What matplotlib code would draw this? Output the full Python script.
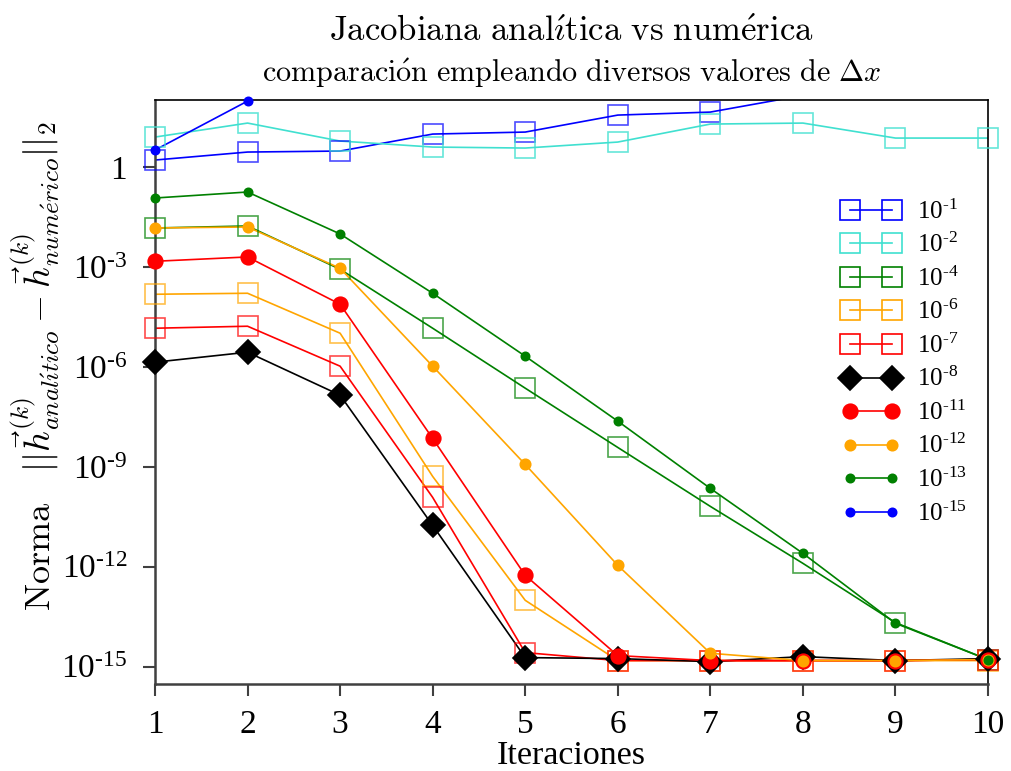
import matplotlib

matplotlib.use("Agg")
import matplotlib.pyplot as plt
import numpy as np
from matplotlib.lines import Line2D

# --------------------------------------------------
# data: log10 of the norm
# --------------------------------------------------
iteraciones = np.arange(1, 11)
nan = np.nan

log_dx_1 = [0.21, 0.45, 0.48, 0.99, 1.05, 1.56, 1.65, 2.15, nan, nan]
log_dx_2 = [0.90, 1.32, 0.78, 0.60, 0.57, 0.75, 1.29, 1.32, 0.87, 0.87]
log_dx_4 = [-1.83, -1.77, -3.07, -4.84, -6.64, -8.42, -10.19, -11.90, -13.68, -14.79]
log_dx_6 = [-3.82, -3.79, -4.99, -9.29, -13.01, -14.82, -14.82, -14.82, -14.82, -14.82]
log_dx_7 = [-4.84, -4.78, -5.98, -9.92, -14.58, -14.82, -14.82, -14.82, -14.82, -14.79]
log_dx_8 = [-5.86, -5.56, -6.85, -10.76, -14.73, -14.76, -14.85, -14.70, -14.82, -14.76]
log_dx_11 = [-2.83, -2.70, -4.12, -8.15, -12.26, -14.67, -14.82, -14.82, -14.82, -14.79]
log_dx_12 = [-1.83, -1.80, -3.04, -5.98, -8.93, -11.96, -14.60, -14.82, -14.82, -14.79]
log_dx_13 = [-0.93, -0.75, -2.01, -3.79, -5.68, -7.63, -9.65, -11.60, -13.70, -14.79]
log_dx_15 = [0.51, 1.98, nan, nan, nan, nan, nan, nan, nan, nan]

etiquetas = ["-1", "-2", "-4", "-6", "-7", "-8", "-11", "-12", "-13", "-15"]
yticks_exp = [0, -3, -6, -9, -12, -15]

# --------------------------------------------------
# styles: (data, color, marker, size, filled, alpha)
# --------------------------------------------------
series = [
    (log_dx_1, "blue", "s", 15, False, 0.7),
    (log_dx_2, "turquoise", "s", 15, False, 0.8),
    (log_dx_4, "green", "s", 15, False, 0.7),
    (log_dx_6, "orange", "s", 15, False, 0.7),
    (log_dx_7, "red", "s", 15, False, 0.7),
    (log_dx_8, "black", "D", 12, True, 1.0),
    (log_dx_11, "red", "o", 10.5, True, 1.0),
    (log_dx_12, "orange", "o", 7.5, True, 1.0),
    (log_dx_13, "green", "o", 6, True, 1.0),
    (log_dx_15, "blue", "o", 6, True, 1.0),
]

plt.rcParams.update({
    "font.family": "Liberation Serif",
    "mathtext.fontset": "custom",
    "mathtext.rm": "Liberation Serif",
    "mathtext.it": "Liberation Serif:italic",
})

ymin, ymax = 3e-16, 1.03e2

fig = plt.figure(figsize=(10.11, 7.71), dpi=100)
ax = fig.add_axes([155 / 1011, 1 - 684 / 771, (988 - 155) / 1011, (684 - 100) / 771])
ax.set_yscale("log")

handles = []
for (vals, col, mk, ms, filled, alpha), lab in zip(series, etiquetas):
    y = 10.0 ** np.array(vals, dtype=float)
    ax.plot(iteraciones, y, color=col, lw=1.2, zorder=2)
    # markers outside the top of the frame stay hidden, the rest are unclipped
    ym = np.where(y <= ymax * 1.05, y, np.nan)
    face = col if filled else "none"
    ax.plot(iteraciones, ym, ls="none", marker=mk, ms=ms, mfc=face, mec=col,
            mew=1.2, alpha=alpha, clip_on=False, zorder=3)
    h = Line2D([], [], color=col, lw=1.2, marker=mk, ms=ms, mfc=face, mec=col, mew=1.2)
    h.set_label(r"$10^{\text{" + lab + "}}$")
    handles.append(h)

ax.set_xlim(1, 10)
ax.set_ylim(ymin, ymax)
ax.set_xticks(iteraciones)
ax.set_xticklabels([str(i) for i in iteraciones])
ax.set_yticks([10.0 ** e for e in yticks_exp])
ax.set_yticklabels(["1"] + [r"$10^{\text{%d}}$" % e for e in yticks_exp[1:]])
ax.minorticks_off()
ax.tick_params(axis="both", direction="out", length=8.6, width=1.5,
               color="#404040", labelsize=24)
ax.tick_params(axis="x", pad=10)
ax.tick_params(axis="y", pad=11.5)

for s in ["left", "bottom"]:
    ax.spines[s].set_color("#404040")
    ax.spines[s].set_linewidth(1.8)
for s in ["top", "right"]:
    ax.spines[s].set_color("black")
    ax.spines[s].set_linewidth(1.2)

ax.legend(handles=handles, loc="upper left", bbox_to_anchor=(0.825, 0.83),
          frameon=False, fontsize=18, numpoints=2, handlelength=2.3,
          handletextpad=0.7, labelspacing=0.37, borderaxespad=0, borderpad=0)

ax.set_xlabel("Iteraciones", fontsize=24.5, labelpad=0)
ax.set_ylabel(r"$\mathrm{Norma}\quad ||\vec{h}^{(k)}_{anal\acute{\imath}tico}"
              r" - \vec{h}^{(k)}_{num\acute{e}rico}||_2$",
              fontsize=26, math_fontfamily="cm")
ax.yaxis.set_label_coords(-0.112, 0.545)

fig.text(0.565, 0.958, r"$\mathrm{Jacobiana\ anal\acute{\imath}tica\ vs\ num\acute{e}rica}$",
         ha="center", va="center", fontsize=25, math_fontfamily="cm")
fig.text(0.565, 0.905, r"$\mathrm{comparaci\acute{o}n\ empleando\ diversos\ valores\ de\ }\Delta x$",
         ha="center", va="center", fontsize=21.7, math_fontfamily="cm")

fig.savefig("out.png", dpi=100)
